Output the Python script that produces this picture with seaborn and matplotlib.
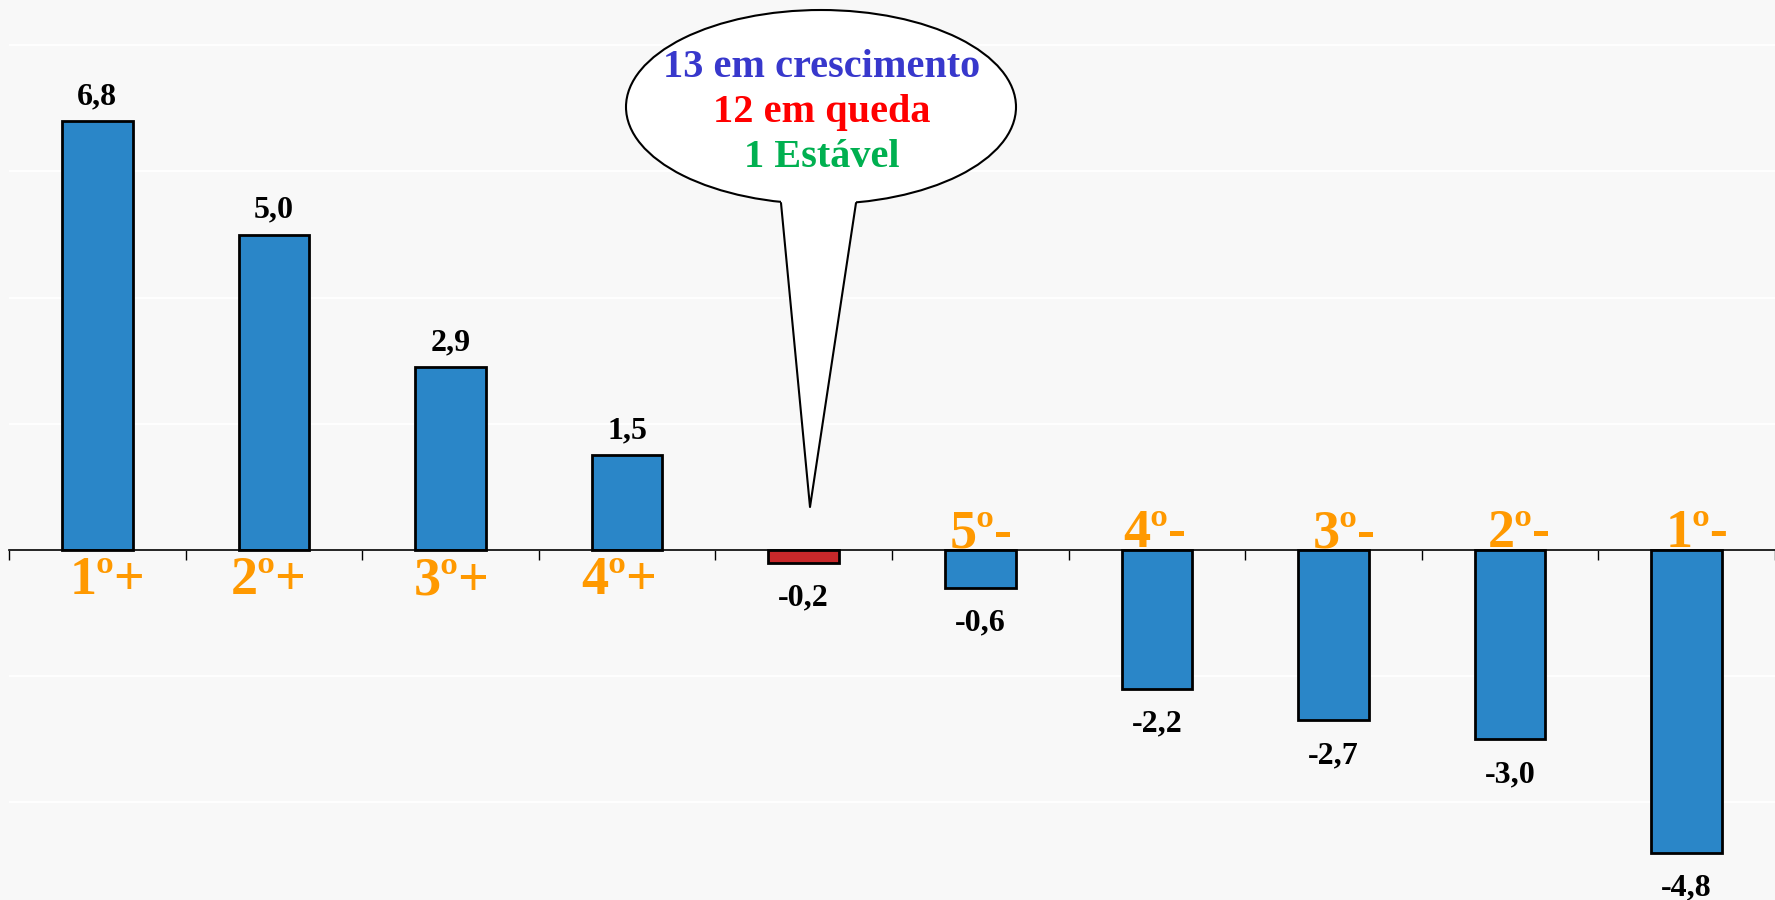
import matplotlib
matplotlib.use("Agg")
import matplotlib.pyplot as plt
import seaborn as sns
import pandas as pd
import numpy as np
from matplotlib.patches import Ellipse, Polygon
from matplotlib.lines import Line2D
from matplotlib.ticker import MultipleLocator

# ---------------- data ----------------
categories = ["1º+", "2º+", "3º+", "4º+", "", "5º-", "4º-", "3º-", "2º-", "1º-"]
values = [6.8, 5.0, 2.9, 1.5, -0.2, -0.6, -2.2, -2.7, -3.0, -4.8]
value_labels = ["6,8", "5,0", "2,9", "1,5", "-0,2", "-0,6", "-2,2", "-2,7", "-3,0", "-4,8"]
bar_colors = ["#2A86C8"] * 4 + ["#C8282A"] + ["#2A86C8"] * 5
callout_lines = ["13 em crescimento", "12 em queda", "1 Estável"]
callout_colors = ["#3838CC", "#FF0000", "#00B050"]

keys = [f"c{i}" for i in range(len(values))]
df = pd.DataFrame({"key": keys, "value": values})

# ---------------- style ----------------
BG = "#F8F8F8"
sns.set_theme(style="whitegrid", rc={
    "axes.facecolor": BG,
    "figure.facecolor": BG,
    "grid.color": "white",
    "grid.linewidth": 1.3,
})
plt.rcParams["font.family"] = ["Liberation Serif", "DejaVu Serif"]

W, H = 1775, 900
fig = plt.figure(figsize=(W / 100, H / 100), dpi=100, facecolor=BG)
left_px = 9
ax = fig.add_axes([left_px / W, 0, 1 - left_px / W, 1])

sns.barplot(data=df, x="key", y="value", hue="key", order=keys,
            palette=dict(zip(keys, bar_colors)), width=0.4, saturation=1,
            edgecolor="black", linewidth=2, legend=False, ax=ax, zorder=3)

# scales
step_px = 177.3
px_per_unit = 63.1
zero_px = 550
ax.set_xlim(-0.5, -0.5 + (W - left_px) / step_px)
ax.set_ylim(-(H - zero_px) / px_per_unit, zero_px / px_per_unit)

ax.yaxis.set_major_locator(MultipleLocator(2))
ax.grid(axis="y", color="white", linewidth=1.3)
ax.grid(axis="x", visible=False)
ax.set_axisbelow(True)
for s in ["left", "right", "top"]:
    ax.spines[s].set_visible(False)
ax.spines["bottom"].set_position(("data", 0))
ax.spines["bottom"].set_color("black")
ax.spines["bottom"].set_linewidth(1.2)
ax.spines["bottom"].set_zorder(4)
ax.set_xticks(np.arange(len(values) + 1) - 0.5)
ax.set_xticklabels([])
ax.tick_params(axis="x", length=7, width=1, color="black", direction="out",
               labelbottom=False, bottom=True)
ax.tick_params(axis="y", length=0, labelleft=False)
ax.set_xlabel("")
ax.set_ylabel("")

# value labels
for i, (v, lab) in enumerate(zip(values, value_labels)):
    if v > 0:
        ax.annotate(lab, (i, v), xytext=(0, 12), textcoords="offset points",
                    ha="center", va="baseline", fontsize=23, fontweight="bold",
                    color="black")
    else:
        ax.annotate(lab, (i, v), xytext=(0, -15), textcoords="offset points",
                    ha="center", va="top", fontsize=23, fontweight="bold",
                    color="black")

# category labels (small manual horizontal nudges, in pixels)
label_dx_px = [10, -5, 1, -8, 0, 1, -2, 11, 9, 10]
for i, (v, cat) in enumerate(zip(values, categories)):
    if not cat:
        continue
    dx = label_dx_px[i] * 0.72
    if v > 0:
        ax.annotate(cat, (i, 0), xytext=(dx, -32), textcoords="offset points",
                    ha="center", va="baseline", fontsize=39, fontweight="bold",
                    color="#FF9900")
    else:
        ax.annotate(cat, (i, 0), xytext=(dx, 2), textcoords="offset points",
                    ha="center", va="baseline", fontsize=39, fontweight="bold",
                    color="#FF9900")

# speech bubble callout (pixel layout -> axes fraction)
def fx(px):
    return (px - left_px) / (W - left_px)

def fy(py):
    return 1 - py / H

ell = Ellipse((fx(821), fy(107)), 390 / (W - left_px), 194 / H,
              transform=ax.transAxes, facecolor="white", edgecolor="black",
              linewidth=1.5, zorder=5)
ax.add_patch(ell)
tail_fill = Polygon([(fx(781), fy(195)), (fx(781), fy(203)), (fx(810), fy(507)),
                     (fx(856), fy(203)), (fx(856), fy(195))],
                    closed=True, transform=ax.transAxes, facecolor="white",
                    edgecolor="none", zorder=6)
ax.add_patch(tail_fill)
tail_line = Line2D([fx(781), fx(810), fx(856)], [fy(203), fy(507), fy(203)],
                   transform=ax.transAxes, color="black", linewidth=1.5, zorder=7)
ax.add_line(tail_line)

for j, (txt, col) in enumerate(zip(callout_lines, callout_colors)):
    ax.text(fx(822), fy(77 + 45 * j), txt, transform=ax.transAxes,
            ha="center", va="baseline", fontsize=29, fontweight="bold",
            color=col, zorder=8)

fig.savefig("out.png", dpi=100, facecolor=BG)
